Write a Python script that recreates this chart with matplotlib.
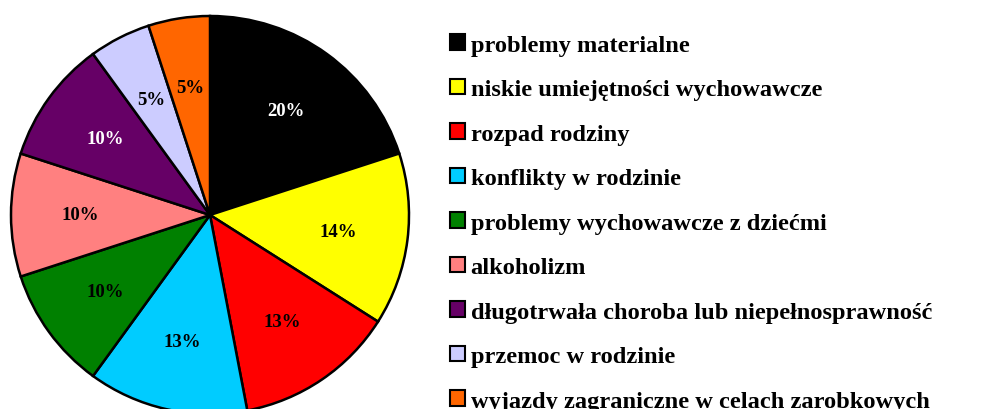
import matplotlib
matplotlib.use('Agg')
import matplotlib.pyplot as plt
from matplotlib.patches import Patch

labels = [
    'problemy materialne',
    'niskie umiejętności wychowawcze',
    'rozpad rodziny',
    'konflikty w rodzinie',
    'problemy wychowawcze z dziećmi',
    'alkoholizm',
    'długotrwała choroba lub niepełnosprawność',
    'przemoc w rodzinie',
    'wyjazdy zagraniczne w celach zarobkowych',
]
values = [20, 14, 13, 13, 10, 10, 10, 5, 5]
colors = ['#000000', '#ffff00', '#ff0000', '#00ccff', '#008000',
          '#ff8080', '#660066', '#ccccff', '#ff6600']
text_colors = ['white', 'black', 'black', 'black', 'black',
               'black', 'white', 'black', 'black']

plt.rcParams['font.family'] = ['Liberation Serif', 'DejaVu Serif']

W, H = 981, 410
fig = plt.figure(figsize=(W / 100, H / 100), dpi=100)
# square axes, centre ~(210, 216) px from top-left, radius ~199 px
r = 199
cx, cy = 210, 216
ax = fig.add_axes([(cx - r) / W, (H - cy - r) / H, 2 * r / W, 2 * r / H])

wedges, texts, autotexts = ax.pie(
    values, colors=colors, startangle=90, counterclock=False,
    autopct='%d%%', pctdistance=0.65, radius=1.0,
    wedgeprops=dict(edgecolor='black', linewidth=1.8),
)
for t, c in zip(autotexts, text_colors):
    t.set_color(c)
    t.set_fontsize(13.5)
    t.set_fontweight('bold')
ax.set_xlim(-1, 1)
ax.set_ylim(-1, 1)
ax.set_aspect('equal')
ax.axis('off')

handles = [Patch(facecolor=c, edgecolor='black', linewidth=1.5) for c in colors]
fig.legend(handles, labels, loc='upper left', bbox_to_anchor=(450 / W, 1 - 35 / H),
           frameon=False, prop=dict(family=['Liberation Serif', 'DejaVu Serif'],
                                    weight='bold', size=17.6),
           handlelength=0.62, handleheight=0.62, handletextpad=0.22,
           labelspacing=0.94, borderaxespad=0, borderpad=0)

fig.savefig('out.png', dpi=100)
